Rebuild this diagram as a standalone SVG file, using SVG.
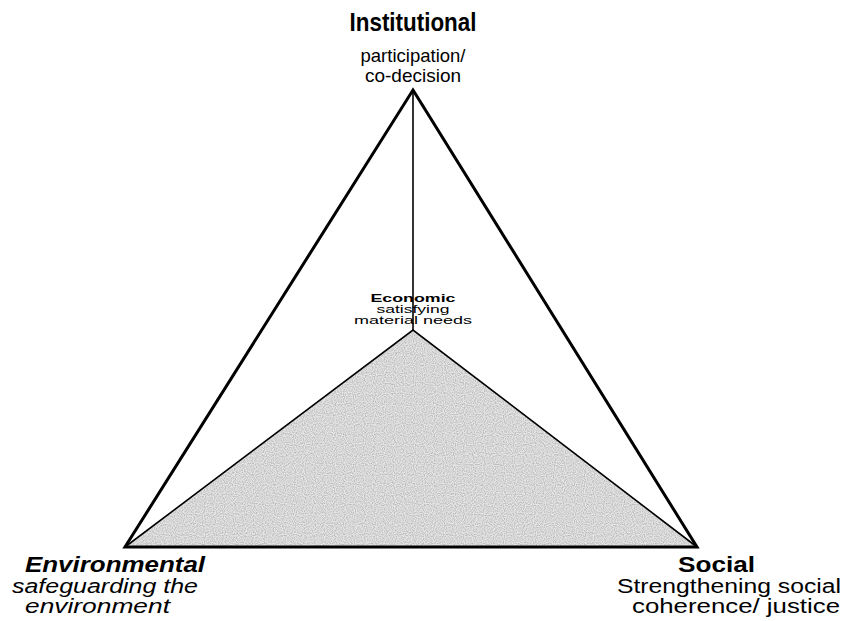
<svg xmlns="http://www.w3.org/2000/svg" width="846" height="621" viewBox="0 0 846 621">
<style>
.t{font-family:"Liberation Sans",Arial,sans-serif;fill:#000}
.b{font-weight:bold}
.i{font-style:italic}
.thick{fill:none;stroke:#000;stroke-width:3;stroke-linejoin:miter}
.thin{fill:none;stroke:#000;stroke-width:1.6}
</style>
<defs>
<filter id="stip" x="0" y="0" width="1" height="1">
<feTurbulence type="fractalNoise" baseFrequency="0.9" numOctaves="1" seed="3" result="n"/>
<feColorMatrix in="n" type="matrix" values="0 0 0 0 0.5  0 0 0 0 0.5  0 0 0 0 0.5  0 0 0 -2.6 1.7" result="d"/>
<feComposite in="d" in2="SourceGraphic" operator="in" result="dots"/>
<feMerge><feMergeNode in="SourceGraphic"/><feMergeNode in="dots"/></feMerge>
</filter>
</defs>
<g id="connectors">
<polygon points="125,547 413,330 697,547" fill="#e6e6e6" filter="url(#stip)"/>
<polyline class="thin" points="125,547 413,330 697,547"/>
<line class="thin" x1="413" y1="90" x2="413" y2="330"/>
<polygon class="thick" points="413,90 697,547 125,547"/>
</g>
<g id="institutional">
<text class="t b" x="413" y="31" font-size="26" text-anchor="middle" textLength="127" lengthAdjust="spacingAndGlyphs">Institutional</text>
<text class="t" x="413" y="62" font-size="19" text-anchor="middle" textLength="105" lengthAdjust="spacingAndGlyphs">participation/</text>
<text class="t" x="413" y="82" font-size="19" text-anchor="middle" textLength="96" lengthAdjust="spacingAndGlyphs">co-decision</text>
</g>
<g id="economic">
<text class="t b" x="413" y="302" font-size="10.5" text-anchor="middle" textLength="85" lengthAdjust="spacingAndGlyphs">Economic</text>
<text class="t" x="413" y="313" font-size="10.5" text-anchor="middle" textLength="73" lengthAdjust="spacingAndGlyphs">satisfying</text>
<text class="t" x="413" y="324" font-size="10.5" text-anchor="middle" textLength="118" lengthAdjust="spacingAndGlyphs">material needs</text>
</g>
<g id="environmental">
<text class="t b i" x="25" y="572" font-size="22" textLength="180" lengthAdjust="spacingAndGlyphs">Environmental</text>
<text class="t i" x="12" y="593" font-size="20" textLength="186" lengthAdjust="spacingAndGlyphs">safeguarding the</text>
<text class="t i" x="25" y="613" font-size="20" textLength="145" lengthAdjust="spacingAndGlyphs">environment</text>
</g>
<g id="social">
<text class="t b" x="678" y="572" font-size="22" textLength="77" lengthAdjust="spacingAndGlyphs">Social</text>
<text class="t" x="617" y="593" font-size="20" textLength="224" lengthAdjust="spacingAndGlyphs">Strengthening social</text>
<text class="t" x="632" y="613" font-size="20" textLength="208" lengthAdjust="spacingAndGlyphs">coherence/ justice</text>
</g>
</svg>
